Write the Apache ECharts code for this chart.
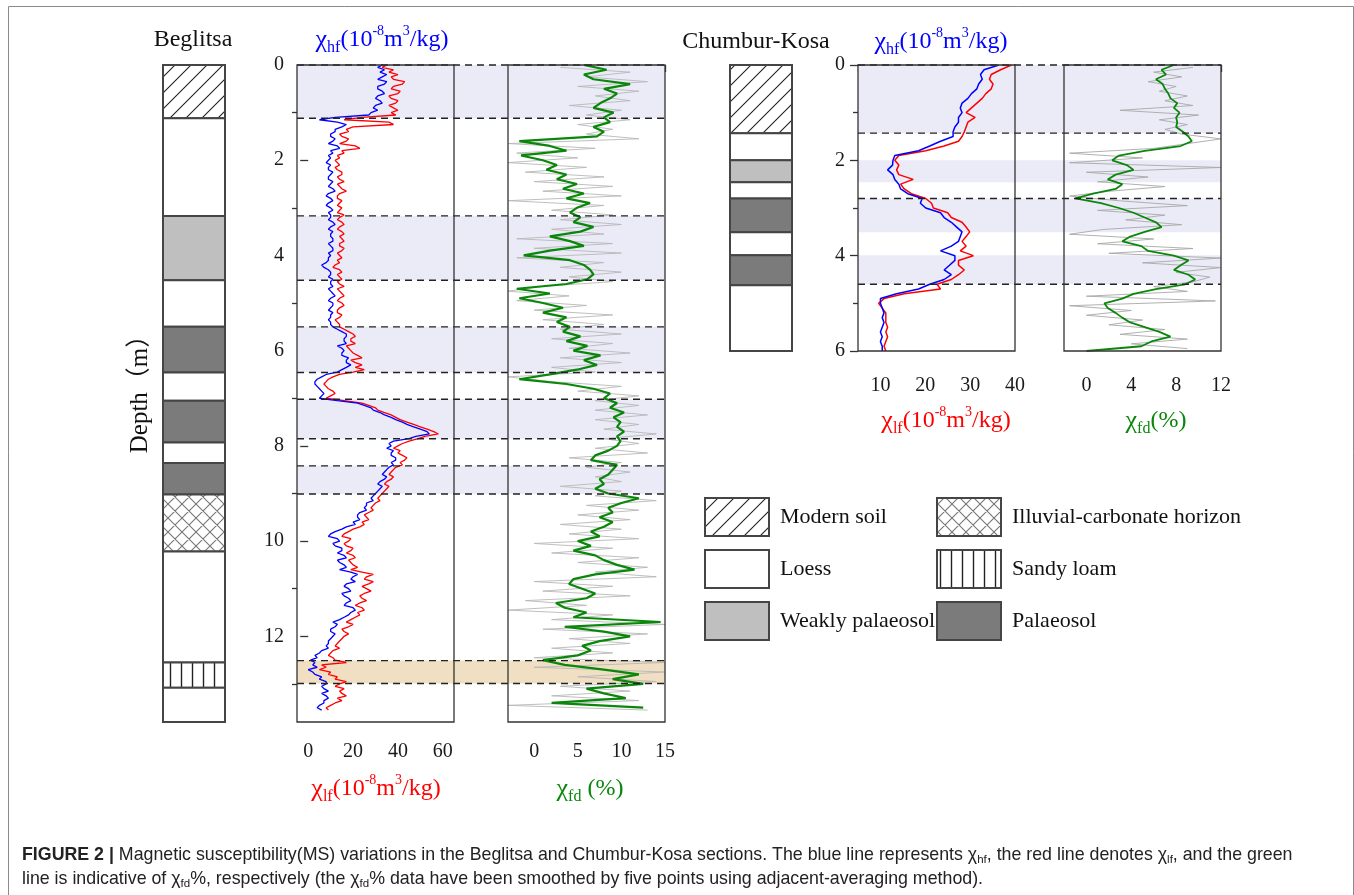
<!DOCTYPE html>
<html><head><meta charset="utf-8">
<script src="https://cdn.jsdelivr.net/npm/echarts@6/dist/echarts.min.js"></script>
<style>html,body{margin:0;padding:0;background:#fff;}#chart{width:1354px;height:895px;}</style>
</head><body><div id="chart"></div>
<script>
// ---------------- DATA ----------------
// Beglitsa section: chi_lf / chi_hf sampled every 0.05 m
const begFineDepth = [
0,0.05,0.1,0.15,0.2,0.25,0.3,0.35,0.4,0.45,0.5,0.55,0.6,0.65,0.7,0.75,0.8,0.85,0.9,0.95,
1,1.05,1.1,1.15,1.2,1.25,1.3,1.35,1.4,1.45,1.5,1.55,1.6,1.65,1.7,1.75,1.8,1.85,1.9,1.95,
2,2.05,2.1,2.15,2.2,2.25,2.3,2.35,2.4,2.45,2.5,2.55,2.6,2.65,2.7,2.75,2.8,2.85,2.9,2.95,
3,3.05,3.1,3.15,3.2,3.25,3.3,3.35,3.4,3.45,3.5,3.55,3.6,3.65,3.7,3.75,3.8,3.85,3.9,3.95,
4,4.05,4.1,4.15,4.2,4.25,4.3,4.35,4.4,4.45,4.5,4.55,4.6,4.65,4.7,4.75,4.8,4.85,4.9,4.95,
5,5.05,5.1,5.15,5.2,5.25,5.3,5.35,5.4,5.45,5.5,5.55,5.6,5.65,5.7,5.75,5.8,5.85,5.9,5.95,
6,6.05,6.1,6.15,6.2,6.25,6.3,6.35,6.4,6.45,6.5,6.55,6.6,6.65,6.7,6.75,6.8,6.85,6.9,6.95,
7,7.05,7.1,7.15,7.2,7.25,7.3,7.35,7.4,7.45,7.5,7.55,7.6,7.65,7.7,7.75,7.8,7.85,7.9,7.95,
8,8.05,8.1,8.15,8.2,8.25,8.3,8.35,8.4,8.45,8.5,8.55,8.6,8.65,8.7,8.75,8.8,8.85,8.9,8.95,
9,9.05,9.1,9.15,9.2,9.25,9.3,9.35,9.4,9.45,9.5,9.55,9.6,9.65,9.7,9.75,9.8,9.85,9.9,9.95,
10,10.05,10.1,10.15,10.2,10.25,10.3,10.35,10.4,10.45,10.5,10.55,10.6,10.65,10.7,10.75,10.8,10.85,10.9,10.95,
11,11.05,11.1,11.15,11.2,11.25,11.3,11.35,11.4,11.45,11.5,11.55,11.6,11.65,11.7,11.75,11.8,11.85,11.9,11.95,
12,12.05,12.1,12.15,12.2,12.25,12.3,12.35,12.4,12.45,12.5,12.55,12.6,12.65,12.7,12.75,12.8,12.85,12.9,12.95,
13,13.05,13.1,13.15,13.2,13.25,13.3,13.35,13.4,13.45,13.5,13.55];
const begLf = [
35,33,38,36,40,37,38,43,42,38,37,41,40,36,37,40,39,36,38,40,
37,39,24,16,36,38,20,17,18,14,15,18,17,14,21,23,15,16,13,14,
12,13,14,12,13,15,15,13,14,16,13,14,15,17,14,13,13,15,14,13,
15,14,13,16,14,13,15,16,14,13,15,16,14,15,16,14,14,16,15,13,
14,15,13,14,12,11,14,15,13,14,15,13,14,16,13,14,15,16,14,13,
15,16,14,13,13,15,14,12,13,14,14,16,18,20,21,19,19,21,17,18,
19,20,22,24,19,21,24,21,25,20,14,11,9,8,7,8,9,11,12,10,
8,16,24,27,30,31,34,37,39,41,44,47,50,53,56,58,52,49,45,42,
40,38,41,40,42,44,43,41,42,39,38,37,36,38,37,35,34,36,35,34,
33,32,31,32,30,29,28,29,27,25,26,27,24,25,23,20,18,16,15,19,
18,16,17,20,19,17,20,21,18,19,20,22,19,24,29,26,25,29,27,24,
26,28,25,23,24,26,23,21,24,25,22,23,21,19,17,20,18,15,16,18,
16,15,14,13,12,14,11,10,9,11,12,17,6,8,5,10,9,13,12,17,
14,12,16,14,15,17,13,15,12,10,8,9];
const begHf = [
33,31,34,32,35,33,31,35,34,31,31,33,34,31,30,32,33,30,29,31,
28,27,12,5,13,17,15,12,12,10,10,12,11,9,13,14,10,11,9,10,
9,8,10,9,9,11,10,9,9,11,10,9,11,12,9,8,10,11,9,8,
10,11,9,10,10,9,11,12,10,9,11,10,10,11,11,9,10,11,11,9,
10,9,9,8,6,7,9,10,10,9,11,10,10,11,9,10,11,12,10,9,
11,11,10,9,11,10,10,9,10,10,11,13,15,17,17,16,16,17,13,15,
16,15,15,18,17,17,19,17,15,13,8,6,4,3,3,4,5,6,7,6,
5,13,22,25,28,29,32,34,37,39,42,44,47,50,53,54,48,45,38,36,
37,35,38,37,37,39,39,37,38,36,35,34,33,35,34,32,31,33,32,31,
30,29,28,29,26,26,25,26,23,22,22,23,20,21,17,15,12,10,9,13,
14,11,12,15,15,13,16,17,13,14,16,17,14,19,22,20,19,21,17,16,
18,19,15,16,18,19,17,16,20,21,19,18,16,14,11,13,12,10,10,12,
11,10,9,9,8,9,6,5,3,4,1,3,2,4,0,2,3,6,5,8,
8,6,7,9,6,8,9,7,7,5,4,6];
// Beglitsa chi_fd (5-point smoothed, every 0.1 m) and raw chi_fd
const begDepth = [0,0.1,0.2,0.3,0.4,0.5,0.6,0.7,0.8,0.9,1,1.1,1.2,1.3,1.4,1.5,1.6,1.7,1.8,1.9,2,2.1,2.2,2.3,2.4,2.5,2.6,2.7,2.8,2.9,3,3.1,3.2,3.3,3.4,3.5,3.6,3.7,3.8,3.9,4,4.1,4.2,4.3,4.4,4.5,4.6,4.7,4.8,4.9,5,5.1,5.2,5.3,5.4,5.5,5.6,5.7,5.8,5.9,6,6.1,6.2,6.3,6.4,6.5,6.6,6.7,6.8,6.9,7,7.1,7.2,7.3,7.4,7.5,7.6,7.7,7.8,7.9,8,8.1,8.2,8.3,8.4,8.5,8.6,8.7,8.8,8.9,9,9.1,9.2,9.3,9.4,9.5,9.6,9.7,9.8,9.9,10,10.1,10.2,10.3,10.4,10.5,10.6,10.7,10.8,10.9,11,11.1,11.2,11.3,11.4,11.5,11.6,11.7,11.8,11.9,12,12.1,12.2,12.3,12.4,12.5,12.6,12.7,12.8,12.9,13,13.1,13.2,13.3,13.4,13.5];
const begFd = [5.7,8.3,5.7,6.8,11,8,9.5,8.7,7.6,6.8, 9.1,8,8.7,6.8,8,7.2,-1.7,1.8,3.7,-1.5, 1,2.6,1.4,3.7,2.6,4.9,3.3,5.7,3.7,6.4, 4.9,4.1,5.3,4.5,6.8,5.3,1.8,4.1,5.7,1.8, -1.2,4.1,5.7,6.4,6.8,6.1,3.7,-2,1.8,-1.7, 1,3.3,1,3.7,2.6,4.1,3.3,5.3,3.7,6.1, 4.5,7.6,5.7,7.2,4.9,1.8,-1.7,3.7,6.8,8.7, 8,9.5,8.7,10.3,9.1,9.9,9.5,10.3,9.5,9.9, 9.5,8.5,7,6.5,9.5,9,8.5,7.5,8,7, 8.5,12,10,8.5,9,7.5,9,8,6.5,7.5, 5,6.5,4.5,7,8,9.5,11.5,7,4.5,4, 5.5,7,6,2.5,3.5,6,4.5,14.5,3.5,8, 11,7.5,5.5,6.5,5,1,3.5,8,12,9, 12.5,6,8,10.5,2,12.5];
const begRawDepth = [0.05,0.15,0.25,0.35,0.45,0.55,0.65,0.75,0.85,0.95,1.05,1.15,1.25,1.35,1.45,1.55,1.65,1.75,1.85,1.95,2.05,2.15,2.25,2.35,2.45,2.55,2.65,2.75,2.85,2.95,3.05,3.15,3.25,3.35,3.45,3.55,3.65,3.75,3.85,3.95,4.05,4.15,4.25,4.35,4.45,4.55,4.65,4.75,4.85,4.95,5.05,5.15,5.25,5.35,5.45,5.55,5.65,5.75,5.85,5.95,6.05,6.15,6.25,6.35,6.45,6.55,6.65,6.75,6.85,6.95,7.05,7.15,7.25,7.35,7.45,7.55,7.65,7.75,7.85,7.95,8.05,8.15,8.25,8.35,8.45,8.55,8.65,8.75,8.85,8.95,9.05,9.15,9.25,9.35,9.45,9.55,9.65,9.75,9.85,9.95,10.05,10.15,10.25,10.35,10.45,10.55,10.65,10.75,10.85,10.95,11.05,11.15,11.25,11.35,11.45,11.55,11.65,11.75,11.85,11.95,12.05,12.15,12.25,12.35,12.45,12.55,12.65,12.75,12.85,12.95,13.05,13.15,13.25,13.35,13.45,13.55];
const begFdRaw = [3,11,6,13,5,12,7,11,4,10, 6,11,5,9,6,12,-3,7,-2,5, -3,6,-1,8,0,9,1,10,-3,8, 2,9,3,10,2,8,-2,9,0,10, -2,8,3,10,4,9,1,-3,4,-2, 6,0,9,1,8,3,10,2,9,4, 11,3,10,2,7,-3,2,10,5,12, 7,12,7,13,7,12,8,14,8,12, 7,13,4,10,6,11,7,10,3,10, 7,14,6,12,5,11,3,10,4,12, 0,9,2,12,5,13,7,14,0,9, 1,11,-1,6,-3,9,2,15,1,13, 4,11,2,9,0,15,0,15,5,14, 3,11,2,12,-3,13];
// Beglitsa lithology
const begLayerTop    = [0,1.12,3.17,4.52,5.5,6.46,7.05,7.93,8.36,9.02,10.22,12.55,13.08];
const begLayerBottom = [1.12,3.17,4.52,5.5,6.46,7.05,7.93,8.36,9.02,10.22,12.55,13.08,13.8];
const begLayerKind   = [0,1,2,1,3,1,3,1,3,4,1,5,1];
// Beglitsa shaded intervals and boundaries
const begBandTop    = [0,3.17,5.5,7.02,8.42];
const begBandBottom = [1.12,4.52,6.46,7.85,9.01];
const begSandTop    = [12.51];
const begSandBottom = [12.99];
const begBoundary   = [0,1.12,3.17,4.52,5.5,6.46,7.02,7.85,8.42,9.01,12.51,12.99];

// Chumbur-Kosa section
const chumDepth = [0,0.1,0.2,0.3,0.4,0.5,0.6,0.7,0.8,0.9,1,1.1,1.2,1.3,1.4,1.5,1.6,1.7,1.8,1.9,2,2.1,2.2,2.3,2.4,2.5,2.6,2.7,2.8,2.9,3,3.1,3.2,3.3,3.4,3.5,3.6,3.7,3.8,3.9,4,4.1,4.2,4.3,4.4,4.5,4.6,4.7,4.8,4.9,5,5.1,5.2,5.3,5.4,5.5,5.6,5.7,5.8,5.9,6];
const chumLf = [39.2,36.8,34.7,34.3,35.1,34.7,33.5,32.7,31.5,30.3, 29.1,31.1,29.5,29.1,28.7,28.2,27.4,24.2,20.1,14.1, 13.2,14.1,13.6,14.1,17.3,14.5,15.3,16.9,20.1,21.4, 21.8,25,25.8,28.2,29.1,29.9,29.1,28.2,29.1,27.8, 30.7,27.4,27.4,28.7,27.4,25.8,22.6,23.4,15.3,10.8, 9.6,10.4,11.2,11.2,11.2,11.6,11.2,11.6,11.2,10.8, 11.2];
const chumHf = [36.4,33.1,32.3,32.7,31.9,31.5,30.3,29.5,28.2,27.8, 28.2,27.4,27.4,26.6,26.2,26.2,23.4,21,18.5,13.2, 12.8,12.7,11.6,12.8,13.2,14.1,14.5,16.1,19.3,18.9, 20.1,23.4,24.2,25.8,27,28.2,27.8,27.4,25.8,23.4, 26.6,26.6,25.4,24.2,25.8,24.2,21,18.5,13.6,10, 10,10.4,10.8,10.4,10.8,10.4,10,10.4,10,10.4, 10.4];
const chumFd = [7.8,6.7,7.1,6.2,6.8,7,7.3,7.5,8.1,7.8, 8.3,8,8.1,8,8.6,9.1,9.4,8.4,5.2,2.9, 2.3,3.6,4.2,2.6,1.9,3.2,2.6,0.6,-1,1.3, 2.9,4.2,5.2,6.2,6.7,5.2,3.9,3.2,4.9,5.5, 7.8,9.1,8.4,7.8,9.1,9.7,8.8,6.2,4.2,3.2, 1.6,1.9,2.6,3.2,3.9,5.2,6.5,7.5,5.8,4.9, 0];
const chumRawDepth = [0.05,0.15,0.25,0.35,0.45,0.55,0.65,0.75,0.85,0.95,1.05,1.15,1.25,1.35,1.45,1.55,1.65,1.75,1.85,1.95,2.05,2.15,2.25,2.35,2.45,2.55,2.65,2.75,2.85,2.95,3.05,3.15,3.25,3.35,3.45,3.55,3.65,3.75,3.85,3.95,4.05,4.15,4.25,4.35,4.45,4.55,4.65,4.75,4.85,4.95,5.05,5.15,5.25,5.35,5.45,5.55,5.65,5.75,5.85,5.95];
const chumFdRaw = [9.5,6,8.5,5.5,8,6.5,9,7,9.5,3, 10,6.5,9,7,8.5,12,9,6,-1.5,5, -1.5,12,0,5.5,1,7,2,-1.5,3,9, 1,7,3.5,8.5,1.5,-1.5,6,1,9.5,2, 12,5,12,8,11,9.5,6,9,0,11.5, -1.5,4,0,5,2,7,3,9,4,9];
// Chumbur-Kosa lithology
const chumLayerTop    = [0,1.43,2.0,2.46,2.8,3.51,3.99,4.62];
const chumLayerBottom = [1.43,2.0,2.46,2.8,3.51,3.99,4.62,6];
const chumLayerKind   = [0,1,2,1,3,1,3,1];
const chumBandTop    = [0,2.0,2.8,3.99];
const chumBandBottom = [1.43,2.46,3.51,4.6];
const chumBoundary   = [0,1.43,2.8,4.6];

// Axis ticks / labels
const begDepthLabels = [0,2,4,6,8,10,12];
const begDepthMinor  = [1,3,5,7,9,11,13];
const chumDepthLabels = [0,2,4,6];
const chumDepthMinor  = [1,3,5];
const begLfTicks  = [0,10,20,30,40,50,60];
const begLfLabels = [0,20,40,60];
const begFdTicks  = [-2.5,0,2.5,5,7.5,10,12.5,15];
const begFdLabels = [0,5,10,15];
const chumLfTicks  = [5,10,15,20,25,30,35,40];
const chumLfLabels = [10,20,30,40];
const chumFdTicks  = [-2,0,2,4,6,8,10,12];
const chumFdLabels = [0,4,8,12];

// Legend
const legendLabels = ['Modern soil','Illuvial-carbonate horizon','Loess','Sandy loam','Weakly palaeosol','Palaeosol'];
const legendKinds  = [0,4,1,5,2,3];

// ---------------- STYLE ----------------
const SERIF = "'Liberation Serif','Times New Roman',serif";
const SANS = "'Liberation Sans',Arial,sans-serif";
const LAV = '#ebebf8';
const TAN = '#f1dfc3';

function tile(w, h, draw) {
  const c = document.createElement('canvas');
  c.width = w; c.height = h;
  const g = c.getContext('2d');
  g.fillStyle = '#fff'; g.fillRect(0, 0, w, h);
  draw(g, w, h);
  return { image: c, repeat: 'repeat' };
}
const hatch = tile(16, 16, (g, w, h) => {
  g.strokeStyle = '#222'; g.lineWidth = 1.1; g.beginPath();
  g.moveTo(-2, h + 2); g.lineTo(w + 2, -2);
  g.moveTo(-2, 2); g.lineTo(2, -2);
  g.moveTo(w - 2, h + 2); g.lineTo(w + 2, h - 2);
  g.stroke();
});
const cross = tile(14, 14, (g, w, h) => {
  g.strokeStyle = '#777'; g.lineWidth = 1.1; g.beginPath();
  g.moveTo(-2, h + 2); g.lineTo(w + 2, -2);
  g.moveTo(-2, -2); g.lineTo(w + 2, h + 2);
  g.moveTo(-2, 2); g.lineTo(2, -2); g.moveTo(w - 2, h + 2); g.lineTo(w + 2, h - 2);
  g.moveTo(-2, h - 2); g.lineTo(2, h + 2); g.moveTo(w - 2, -2); g.lineTo(w + 2, 2);
  g.stroke();
});
const vert = tile(11, 4, (g, w, h) => {
  g.strokeStyle = '#222'; g.lineWidth = 1.4; g.beginPath();
  g.moveTo(5.5, 0); g.lineTo(5.5, h); g.stroke();
});
const FILLS = [hatch, '#ffffff', '#bfbfbf', '#7b7b7b', cross, vert];

// ---------------- LAYOUT ----------------
const BT = 65, BH = 657, CH = 286;
const grids = [
  { left: 163, top: BT, width: 62, height: BH },          // 0 Beg column
  { left: 297, top: BT, width: 368, height: BH },         // 1 Beg band
  { left: 297, top: BT, width: 157, height: BH, show: true }, // 2 Beg lf/hf
  { left: 508, top: BT, width: 157, height: BH, show: true }, // 3 Beg fd
  { left: 730, top: BT, width: 62, height: CH },          // 4 Chum column
  { left: 858, top: BT, width: 363, height: CH },         // 5 Chum band
  { left: 858, top: BT, width: 157, height: CH, show: true }, // 6 Chum lf/hf
  { left: 1064, top: BT, width: 157, height: CH, show: true } // 7 Chum fd
].map(g => Object.assign({ show: false, borderColor: '#333', borderWidth: 1.3, backgroundColor: 'transparent', z: g.show ? 10 : 0 }, g));

const lblStyle = { fontFamily: SERIF, fontSize: 20, color: '#1a1a1a' };
const tickStyle = { color: '#333', width: 1.3 };
function hiddenX(gi, min, max) { return { gridIndex: gi, type: 'value', min, max, show: false }; }
function hiddenY(gi, max) { return { gridIndex: gi, type: 'value', min: 0, max, inverse: true, show: false }; }
function xVal(gi, min, max, ticks, labels, margin) {
  return { gridIndex: gi, type: 'value', min, max, position: 'bottom',
    axisLine: { show: false }, splitLine: { show: false },
    axisTick: { show: true, customValues: ticks, length: 7, lineStyle: tickStyle },
    axisLabel: Object.assign({ customValues: labels, margin }, lblStyle) };
}
function yVal(gi, max, ticks, labels, len) {
  return { gridIndex: gi, type: 'value', min: 0, max, inverse: true, position: 'left',
    axisLine: { show: false }, splitLine: { show: false },
    axisTick: { show: true, customValues: ticks, length: len, lineStyle: tickStyle },
    axisLabel: labels ? Object.assign({ customValues: labels, margin: 13 }, lblStyle) : { show: false } };
}

const xAxis = [
  hiddenX(0, 0, 1), hiddenX(1, 0, 1),
  xVal(2, -5, 65, begLfTicks, begLfLabels, 20),
  xVal(3, -3, 15, begFdTicks, begFdLabels, 20),
  hiddenX(4, 0, 1), hiddenX(5, 0, 1),
  xVal(6, 5, 40, chumLfTicks, chumLfLabels, 25),
  xVal(7, -2, 12, chumFdTicks, chumFdLabels, 25)
];
const yAxis = [
  hiddenY(0, 13.8), hiddenY(1, 13.8),
  yVal(2, 13.8, begDepthLabels, begDepthLabels, 8),   // 2
  yVal(2, 13.8, begDepthMinor, null, 5),              // 3
  hiddenY(3, 13.8),                                   // 4
  hiddenY(4, 6), hiddenY(5, 6),                       // 5,6
  yVal(6, 6, chumDepthLabels, chumDepthLabels, 8),    // 7
  yVal(6, 6, chumDepthMinor, null, 5),                // 8
  hiddenY(7, 6)                                       // 9
];

// ---------------- SERIES ----------------
function layerSeries(xi, yi, tops, bots, kinds) {
  return { type: 'custom', xAxisIndex: xi, yAxisIndex: yi, z: 3,
    data: tops.map((t, i) => [t, bots[i], kinds[i]]),
    renderItem: (p, api) => {
      const a = api.coord([0, api.value(0)]), b = api.coord([1, api.value(1)]);
      return { type: 'rect', shape: { x: a[0], y: a[1], width: b[0] - a[0], height: b[1] - a[1] },
        style: { fill: FILLS[api.value(2)], stroke: '#454545', lineWidth: 2 } };
    } };
}
function bandSeries(xi, yi, tops, bots, color) {
  return { type: 'custom', xAxisIndex: xi, yAxisIndex: yi, z: 1, silent: true,
    data: tops.map((t, i) => [t, bots[i]]),
    renderItem: (p, api) => {
      const a = api.coord([0, api.value(0)]), b = api.coord([1, api.value(1)]);
      return { type: 'rect', shape: { x: a[0], y: a[1], width: b[0] - a[0], height: b[1] - a[1] }, style: { fill: color } };
    } };
}
function boundarySeries(xi, yi, depths) {
  return { type: 'custom', xAxisIndex: xi, yAxisIndex: yi, z: 6, silent: true,
    data: depths.map(d => [0, d]),
    renderItem: (p, api) => {
      const a = api.coord([0, api.value(1)]), b = api.coord([1, api.value(1)]);
      return { type: 'line', shape: { x1: a[0], y1: a[1], x2: b[0], y2: b[1] },
        style: { stroke: '#222', lineWidth: 1.4, lineDash: [7, 5] } };
    } };
}
function lineSeries(xi, yi, xs, ds, color, w, z) {
  return { type: 'line', xAxisIndex: xi, yAxisIndex: yi, z, showSymbol: false, symbol: 'none', silent: true,
    clip: true, data: ds.map((d, i) => [xs[i], d]), lineStyle: { color, width: w } };
}

const series = [
  layerSeries(0, 0, begLayerTop, begLayerBottom, begLayerKind),
  bandSeries(1, 1, begBandTop, begBandBottom, LAV),
  bandSeries(1, 1, begSandTop, begSandBottom, TAN),
  boundarySeries(1, 1, begBoundary),
  lineSeries(2, 2, begLf, begFineDepth, '#ff0000', 1.3, 4),
  lineSeries(2, 2, begHf, begFineDepth, '#0000ff', 1.3, 5),
  lineSeries(3, 4, begFdRaw, begRawDepth, '#b8b8b8', 0.9, 4),
  lineSeries(3, 4, begFd, begDepth, '#0a870a', 2.2, 5),
  layerSeries(4, 5, chumLayerTop, chumLayerBottom, chumLayerKind),
  bandSeries(5, 6, chumBandTop, chumBandBottom, LAV),
  boundarySeries(5, 6, chumBoundary),
  lineSeries(6, 7, chumLf, chumDepth, '#ff0000', 1.5, 4),
  lineSeries(6, 7, chumHf, chumDepth, '#0000ff', 1.5, 5),
  lineSeries(7, 9, chumFdRaw, chumRawDepth, '#a8a8a8', 0.9, 4),
  lineSeries(7, 9, chumFd, chumDepth, '#0a870a', 1.8, 5)
];

// ---------------- TEXT / GRAPHICS ----------------
const unitRich = {
  n: { fontFamily: SERIF, fontSize: 24, lineHeight: 32 },
  c: { fontFamily: SERIF, fontSize: 26, lineHeight: 32 },
  s: { fontFamily: SERIF, fontSize: 16, lineHeight: 16, verticalAlign: 'bottom' },
  p: { fontFamily: SERIF, fontSize: 14, lineHeight: 14, verticalAlign: 'top' }
};
const unitText = sub => `{c|χ}{s|${sub}}{n|(10}{p|-8}{n|m}{p|3}{n|/kg)}`;
function txt(x, y, text, opts) {
  return Object.assign({ type: 'text', x, y, silent: true,
    style: Object.assign({ text, align: 'center', verticalAlign: 'middle', fill: '#111', font: `24px ${SERIF}` }, opts || {}) });
}
const CAP = 17.8;
const capRich = {
  b: { fontFamily: SANS, fontSize: CAP, fontWeight: 'bold', lineHeight: 22 },
  r: { fontFamily: SANS, fontSize: CAP, lineHeight: 22 },
  c: { fontFamily: SANS, fontSize: CAP, lineHeight: 22 },
  s: { fontFamily: SANS, fontSize: 11.5, lineHeight: 11, verticalAlign: 'bottom' }
};

const elements = [
  { type: 'rect', silent: true, shape: { x: 8.5, y: 6.5, width: 1345, height: 900 }, style: { fill: 'none', stroke: '#8a8a8a', lineWidth: 1 } },
  txt(193, 40, 'Beglitsa'),
  txt(756, 42, 'Chumbur-Kosa'),
  txt(382, 40, unitText('hf'), { fill: '#0000ff', rich: unitRich }),
  txt(941, 42, unitText('hf'), { fill: '#0000ff', rich: unitRich }),
  txt(376, 789, unitText('lf'), { fill: '#ff0000', rich: unitRich }),
  txt(946, 421, unitText('lf'), { fill: '#ff0000', rich: unitRich }),
  txt(590, 789, '{c|χ}{s|fd}{n| (%)}', { fill: '#0a870a', rich: unitRich }),
  txt(1156, 421, '{c|χ}{s|fd}{n|(%)}', { fill: '#0a870a', rich: unitRich }),
  Object.assign(txt(140, 388, 'Depth（m）', { font: `25px ${SERIF}, 'Noto Sans CJK SC'` }), { rotation: Math.PI / 2 }),
  txt(22, 855, '{b|FIGURE 2 | }{r|Magnetic susceptibility(MS) variations in the Beglitsa and Chumbur-Kosa sections. The blue line represents }{c|χ}{s|hf}{r|, the red line denotes }{c|χ}{s|lf}{r|, and the green}', { align: 'left', rich: capRich, fill: '#222' }),
  txt(22, 879, '{r|line is indicative of }{c|χ}{s|fd}{r|%, respectively (the }{c|χ}{s|fd}{r|% data have been smoothed by five points using adjacent-averaging method).}', { align: 'left', rich: capRich, fill: '#222' })
];
legendLabels.forEach((lab, i) => {
  const col = i % 2, row = Math.floor(i / 2);
  const bx = col ? 937 : 705, by = 498 + row * 52;
  elements.push({ type: 'rect', silent: true, shape: { x: bx, y: by, width: 64, height: 38 },
    style: { fill: FILLS[legendKinds[i]], stroke: '#454545', lineWidth: 2 } });
  elements.push(txt(bx + 75, by + 19, lab, { align: 'left', font: `22px ${SERIF}` }));
});

const chart = echarts.init(document.getElementById('chart'), null, { renderer: 'canvas' });
chart.setOption({
  animation: false,
  backgroundColor: '#fff',
  grid: grids, xAxis, yAxis, series,
  graphic: { elements }
});
</script></body></html>
